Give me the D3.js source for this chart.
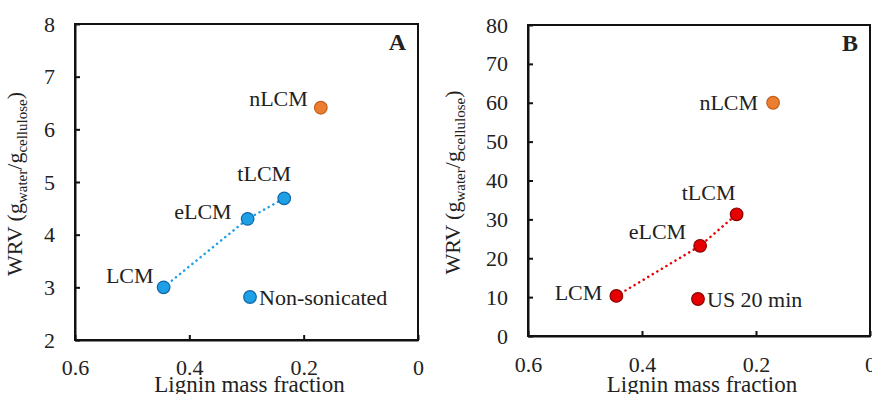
<!DOCTYPE html>
<html>
<head>
<meta charset="utf-8">
<script src="https://cdn.jsdelivr.net/npm/d3@7"></script>
<style>
  body { margin: 0; background: #fff; }
</style>
</head>
<body>
<svg class="chart"></svg>
<script>
// data
var samples = ["LCM", "eLCM", "tLCM"];
var ligninFrac = [0.445, 0.298, 0.234];
var wrvA = [3.0, 4.3, 4.69];
var wrvB = [10.3, 23.2, 31.3];

var nSample = "nLCM";
var nLignin = 0.17;
var nWrvA = 6.41;
var nWrvB = 60.0;

var xTicks = [0.6, 0.4, 0.2, 0];
var yTicksA = [2, 3, 4, 5, 6, 7, 8];
var yTicksB = [0, 10, 20, 30, 40, 50, 60, 70, 80];

var width = 872, height = 394;
var serif = "Liberation Serif";

var chart = d3.select(".chart")
    .attr("width", width)
    .attr("height", height)
    .attr("font-family", serif);

function label(g) {
  return g.append("text")
      .attr("font-family", serif)
      .attr("font-size", 22)
      .attr("fill", "#222");
}

function panel(opt) {
  var x = d3.scaleLinear().domain([0.6, 0]).range([opt.left, opt.right]);
  var y = d3.scaleLinear().domain(opt.yDomain).range([opt.bottom, opt.top]);

  var g = chart.append("g");

  g.append("g")
      .attr("transform", "translate(0," + opt.bottom + ")")
      .call(d3.axisBottom(x).tickValues(xTicks).tickSizeInner(-5).tickSizeOuter(0).tickPadding(opt.xPad)
        .tickFormat(function(d) { return d === 0 ? "0" : d3.format(".1f")(d); }))
      .call(styleAxis);

  g.append("g")
      .attr("transform", "translate(" + opt.left + ",0)")
      .call(d3.axisLeft(y).tickValues(opt.yTicks).tickSizeInner(-5).tickSizeOuter(0).tickPadding(20)
        .tickFormat(d3.format("d")))
      .call(styleAxis);

  // frame
  g.append("rect")
      .attr("x", opt.left).attr("y", opt.top)
      .attr("width", opt.right - opt.left).attr("height", opt.bottom - opt.top)
      .attr("fill", "none").attr("stroke", "#111").attr("stroke-width", 2);

  // dotted trend line through sonicated samples
  var line = d3.line()
      .x(function(d, i) { return x(ligninFrac[i]); })
      .y(function(d) { return y(d); });
  g.append("path")
      .datum(opt.wrv)
      .attr("d", line)
      .attr("fill", "none")
      .attr("stroke", opt.color)
      .attr("stroke-width", 2.5)
      .attr("stroke-linecap", "round")
      .attr("stroke-dasharray", "0.1,5.2");

  g.selectAll(".pt")
      .data(opt.wrv)
    .enter().append("circle")
      .attr("cx", function(d, i) { return x(ligninFrac[i]); })
      .attr("cy", function(d) { return y(d); })
      .attr("r", 6.3)
      .attr("fill", opt.color)
      .attr("stroke", opt.stroke)
      .attr("stroke-width", 1.2);

  opt.wrv.forEach(function(d, i) {
    label(g)
      .attr("x", x(ligninFrac[i]) + opt.labelOff[i][0])
      .attr("y", y(d) + opt.labelOff[i][1])
      .attr("text-anchor", opt.labelOff[i][2])
      .attr("dominant-baseline", "central")
      .text(samples[i]);
  });

  // nLCM point
  g.append("circle")
      .attr("cx", x(nLignin)).attr("cy", y(opt.nWrv))
      .attr("r", 6.3)
      .attr("fill", "#ed7d31")
      .attr("stroke", "#c0601e")
      .attr("stroke-width", 1.2);
  label(g)
      .attr("x", x(nLignin) + opt.nOff[0])
      .attr("y", y(opt.nWrv) + opt.nOff[1])
      .attr("text-anchor", "end")
      .attr("dominant-baseline", "central")
      .text(nSample);

  // legend
  g.append("circle")
      .attr("cx", opt.legend[0]).attr("cy", opt.legend[1])
      .attr("r", 6.3)
      .attr("fill", opt.color)
      .attr("stroke", opt.stroke)
      .attr("stroke-width", 1.2);
  label(g)
      .attr("x", opt.legend[0] + 9).attr("y", opt.legend[1])
      .attr("dominant-baseline", "central")
      .text(opt.legendText);

  // panel letter
  label(g)
      .attr("x", opt.right - 12).attr("y", opt.top + 26)
      .attr("text-anchor", "end")
      .attr("font-size", 24)
      .attr("font-weight", "bold")
      .text(opt.letter);

  // axis titles
  label(g)
      .attr("x", (opt.left + opt.right) / 2 + 3)
      .attr("y", 392)
      .attr("text-anchor", "middle")
      .attr("font-size", 23)
      .text("Lignin mass fraction");

  var yl = label(g)
      .attr("transform", "translate(" + opt.yLabelX + "," + ((opt.top + opt.bottom) / 2 + 2) + ") rotate(-90)")
      .attr("text-anchor", "middle");
  yl.append("tspan").text("WRV (g");
  yl.append("tspan").attr("dy", 5).attr("font-size", 15).text("water");
  yl.append("tspan").attr("dy", -5).text("/g");
  yl.append("tspan").attr("dy", 5).attr("font-size", 15).text("cellulose");
  yl.append("tspan").attr("dy", -5).text(")");
}

function styleAxis(sel) {
  sel.attr("font-family", serif).attr("font-size", 22);
  sel.select(".domain").attr("stroke", "#111").attr("stroke-width", 2);
  sel.selectAll(".tick line").attr("stroke", "#111").attr("stroke-width", 2);
  sel.selectAll(".tick text")
      .attr("font-family", serif)
      .attr("font-size", 22)
      .attr("fill", "#222");
}

panel({
  left: 75, right: 418, top: 24, bottom: 340, xPad: 19,
  yDomain: [2, 8], yTicks: yTicksA, wrv: wrvA, nWrv: nWrvA,
  color: "#1ea0e6", stroke: "#1466a8",
  labelOff: [[-10, -12, "end"], [-16, -7, "end"], [-20, -25, "middle"]],
  nOff: [-13, -9],
  legend: [250, 297], legendText: "Non-sonicated",
  letter: "A", yLabelX: 22
});

panel({
  left: 528, right: 870, top: 25, bottom: 336, xPad: 20,
  yDomain: [0, 80], yTicks: yTicksB, wrv: wrvB, nWrv: nWrvB,
  color: "#e60000", stroke: "#8a0000",
  labelOff: [[-14, -3, "end"], [-14, -14, "end"], [-28, -22, "middle"]],
  nOff: [-15, 0],
  legend: [698, 299], legendText: "US 20 min",
  letter: "B", yLabelX: 460
});
</script>
</body>
</html>
